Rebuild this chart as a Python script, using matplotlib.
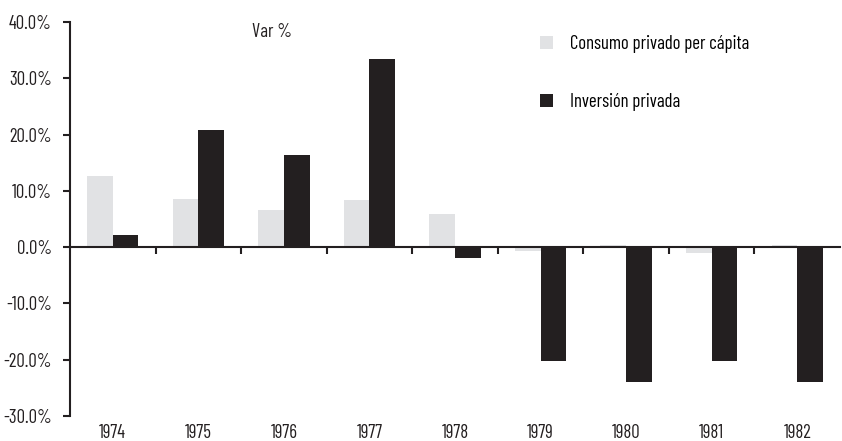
import matplotlib
matplotlib.use("Agg")
import matplotlib.pyplot as plt
import numpy as np
from matplotlib import font_manager

years = ["1974", "1975", "1976", "1977", "1978", "1979", "1980", "1981", "1982"]
consumo = [12.6, 8.5, 6.6, 8.4, 5.8, -0.6, 0.3, -1.1, 0.3]
inversion = [2.1, 20.9, 16.4, 33.5, -1.85, -20.3, -23.9, -20.2, -23.9]
yticks = [-30, -20, -10, 0, 10, 20, 30, 40]

names = {f.name for f in font_manager.fontManager.ttflist}
fam = next((n for n in ["Barlow Condensed", "Archivo Narrow", "IBM Plex Sans Condensed"] if n in names), "DejaVu Sans")
plt.rcParams['font.family'] = [fam, 'DejaVu Sans']

c_gray = "#e1e2e4"
c_dark = "#231f20"
fs = 13.5

fig = plt.figure(figsize=(8.42, 4.41), dpi=100)
ax = fig.add_axes([70/842, 1-416/441, (840-70)/842, (416-22)/441])

x = np.arange(len(years))
w = 0.3
ax.bar(x - w/2, consumo, width=w, color=c_gray, zorder=2, label="Consumo privado per cápita")
ax.bar(x + w/2, inversion, width=w, color=c_dark, zorder=2, label="Inversión privada")

ax.set_xlim(-0.5, len(years) - 0.5)
ax.set_ylim(-30, 40)
ax.set_yticks(yticks)
ax.set_yticklabels([f"{v:.1f}%" for v in yticks], fontsize=fs, color=c_dark)
ax.tick_params(axis='y', direction='out', length=5, width=1.5, color=c_dark, pad=8)

for s in ['top', 'right']:
    ax.spines[s].set_visible(False)
ax.spines['left'].set_linewidth(1.5)
ax.spines['left'].set_color(c_dark)
ax.spines['bottom'].set_position(('data', 0))
ax.spines['bottom'].set_linewidth(1.5)
ax.spines['bottom'].set_color(c_dark)
ax.spines['bottom'].set_zorder(3)

ax.set_xticks(np.arange(0.5, len(years) - 0.5, 1.0))
ax.set_xticklabels([])
ax.tick_params(axis='x', direction='out', length=5, width=1.5, color=c_dark)

tr = ax.get_xaxis_transform()
for i, y in enumerate(years):
    ax.text(i, -0.042, y, transform=tr, ha='center', va='center', fontsize=fs, color=c_dark)

ax.text(0.262, 0.975, "Var %", transform=ax.transAxes, ha='center', va='center',
        fontsize=fs, color=c_dark)

ax.legend(loc='upper left', bbox_to_anchor=(0.6, 0.985),
          frameon=False, fontsize=fs, handlelength=0.7, handleheight=0.7,
          labelspacing=2.1, handletextpad=0.9, borderaxespad=0)

fig.savefig("out.png", dpi=100)
